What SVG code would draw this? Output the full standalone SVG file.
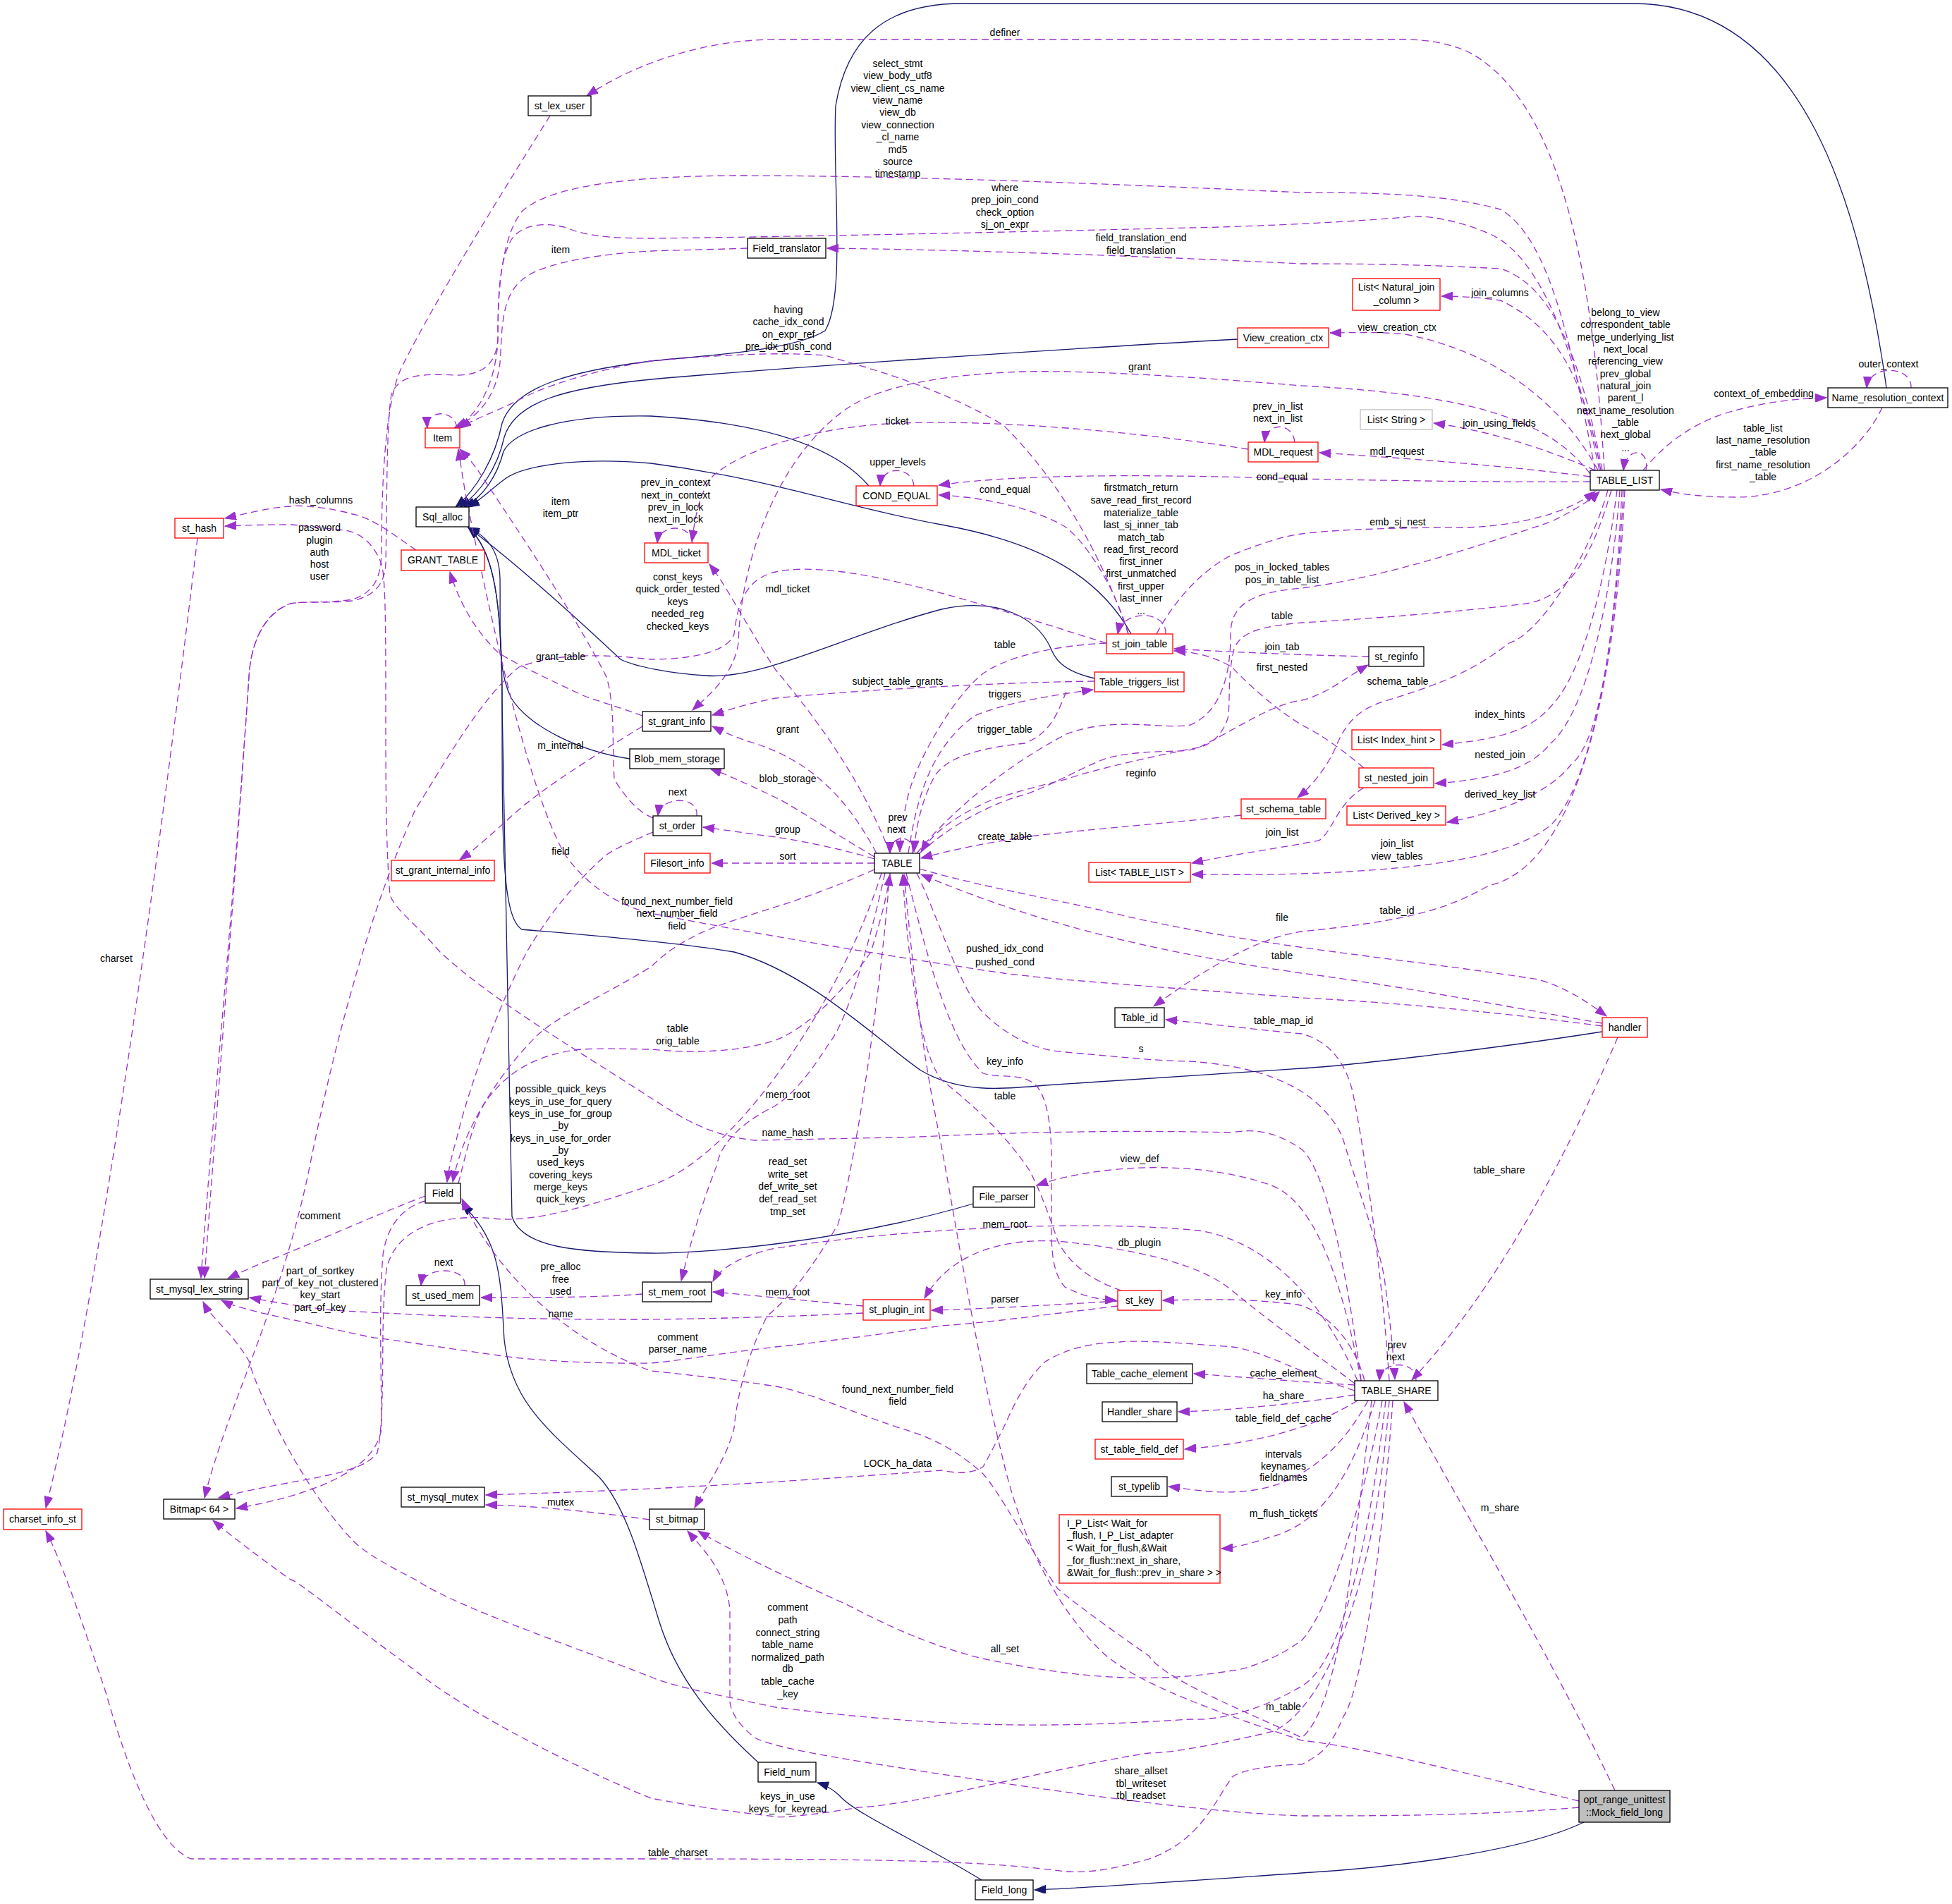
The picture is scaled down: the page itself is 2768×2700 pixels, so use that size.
<svg xmlns="http://www.w3.org/2000/svg" width="2768" height="2700" viewBox="0 0 2768 2700">
<defs>
<marker id="ap" markerUnits="userSpaceOnUse" markerWidth="17" markerHeight="12" refX="16" refY="6" orient="auto"><path d="M0,0 L16,6 L0,12 z" fill="#9a32cd" stroke="#9a32cd" stroke-width="1"/></marker>
<marker id="an" markerUnits="userSpaceOnUse" markerWidth="17" markerHeight="12" refX="16" refY="6" orient="auto"><path d="M0,0 L16,6 L0,12 z" fill="#191970" stroke="#191970" stroke-width="1"/></marker>
</defs>
<style>
.bk{fill:#ffffff;stroke:#000000;stroke-width:1.3}
.rd{fill:#ffffff;stroke:#ff0000;stroke-width:1.3}
.gy{fill:#ffffff;stroke:#bfbfbf;stroke-width:1.3}
.cur{fill:#bfbfbf;stroke:#000000;stroke-width:1.3}
text{font-family:"Liberation Sans",Arial,Helvetica,sans-serif;font-size:14px;fill:#000000}
.c{text-anchor:middle}
.d{fill:none;stroke:#9a32cd;stroke-width:1.3;stroke-dasharray:10,6;marker-end:url(#ap)}
.s{fill:none;stroke:#191970;stroke-width:1.3;marker-end:url(#an)}
</style>
<rect x="0" y="0" width="2768" height="2700" fill="#ffffff"/>
<g id="edges">
<!-- inheritance -->
<path class="s" d="M2246,2584 C2150,2630 1950,2650 1846,2656 C1700,2666 1550,2677 1467,2680"/>
<path class="s" d="M1392,2666 C1300,2610 1220,2575 1194,2550 C1185,2540 1172,2532 1159,2528"/>
<path class="s" d="M1075,2499 C1010,2440 960,2380 935,2300 C910,2220 890,2140 850,2095 C780,2030 725,1990 715,1900 C710,1820 712,1760 655,1708"/>
<path class="s" d="M2675,550 C2640,300 2560,5 2316,5 L1364,5 C1250,5 1200,60 1185,150 C1180,250 1200,420 1170,469 C1120,500 980,505 923,512 C820,525 730,545 712,600 C702,650 675,695 646,719"/>
<path class="s" d="M1755,481 C1500,495 1100,522 923,538 C800,550 730,570 715,620 C705,665 680,700 652,719"/>
<path class="s" d="M1232,689 C1190,640 1100,600 923,590 C800,588 730,610 714,640 C705,675 685,705 658,719"/>
<path class="s" d="M1604,899 C1560,820 1480,770 1335,744 C1200,720 1100,680 923,657 C820,648 740,660 715,680 C695,695 680,710 664,719"/>
<path class="s" d="M1552,962 C1500,950 1495,930 1488,915 C1470,880 1420,845 1335,864 C1200,900 1080,965 1000,958 C950,955 900,945 880,935 C800,860 720,790 664,748"/>
<path class="s" d="M893,1076 C820,1065 750,1030 725,990 C705,950 710,900 709,820 C708,780 690,760 664,748"/>
<path class="s" d="M2272,1463 C2100,1490 1900,1512 1846,1515 C1700,1525 1550,1535 1482,1539 C1420,1545 1360,1550 1306,1518 C1250,1480 1150,1380 1041,1350 C950,1335 820,1325 740,1318 C712,1300 712,1200 712,1000 C712,850 700,780 664,748"/>
<path class="s" d="M1380,1707 C1200,1760 1000,1778 923,1777 C820,1776 740,1770 726,1725 L712,1000 C712,850 700,780 664,748"/>
<!-- dashed usage edges -->
<path class="d" d="M2275,667 C2262,450 2230,150 2081,73 C2050,60 2020,56 1993,56 L1100,56 C1000,56 900,90 832,136"/>
<path class="d" d="M2262,667 C2230,500 2200,340 2128,297 C2050,275 1950,273 1846,273 C1600,262 1300,249 1041,249 C900,250 780,262 740,300 C708,340 706,430 706,480 C704,520 680,532 647,532 C600,530 565,530 555,560 C548,600 549,700 547,800 C545,830 530,845 500,852 C460,856 430,852 412,856 C370,872 355,920 353,960 C330,1300 305,1600 290,1812"/>
<path class="d" d="M2268,667 C2230,480 2180,360 2111,331 C2050,305 2000,305 1993,308 C1900,316 1750,322 1688,323 C1400,330 1100,336 923,338 C860,338 830,334 800,322 C770,315 740,318 725,340 C708,370 706,420 706,480 C704,540 680,585 648,607"/>
<path class="d" d="M1060,352 C1000,354 950,355 923,356 C850,360 780,372 750,390 C715,410 712,450 710,500 C708,560 680,590 644,607"/>
<path class="d" d="M2272,667 C2240,500 2200,405 2128,381 C2000,374 1900,374 1846,374 C1600,362 1350,354 1173,352"/>
<path class="d" d="M1600,899 C1560,780 1500,680 1423,603 C1350,560 1280,535 1170,504 C1100,498 1000,505 923,512 C840,525 770,548 730,570 C700,585 670,595 652,607"/>
<path class="d" d="M2270,667 C2250,560 2220,470 2128,426 C2100,422 2070,420 2044,420"/>
<path class="d" d="M2266,667 C2230,600 2150,505 1993,474 C1950,470 1920,472 1886,472"/>
<path class="d" d="M2255,672 C2200,600 2100,560 1846,547 C1700,535 1550,525 1453,527 C1350,530 1250,545 1200,580 C1100,650 1050,800 1047,912 C1040,960 1000,990 982,1007"/>
<path class="d" d="M1836,627 C1833,598 1796,598 1793,627"/>
<path class="d" d="M1770,637 C1600,610 1400,595 1276,600 C1150,605 1050,640 1011,675 C990,700 985,740 981,768"/>
<path class="d" d="M1296,689 C1293,660 1250,660 1248,689"/>
<path class="d" d="M2255,676 C2150,662 2000,650 1871,642"/>
<path class="d" d="M2262,667 C2200,640 2120,612 2033,600"/>
<path class="d" d="M2255,683 C2100,684 1950,681 1846,679 C1650,673 1450,671 1331,688"/>
<path class="d" d="M1600,899 C1580,830 1540,770 1512,748 C1470,722 1400,705 1331,702"/>
<path class="d" d="M1653,899 C1655,865 1592,863 1585,899"/>
<path class="d" d="M982,770 C980,742 935,742 932,770"/>
<path class="d" d="M2330,667 C2360,630 2400,600 2450,585 C2500,570 2550,565 2590,564"/>
<path class="d" d="M2710,550 C2712,518 2650,516 2647,550"/>
<path class="d" d="M2669,578 C2640,640 2560,705 2463,705 C2410,705 2380,700 2355,694"/>
<path class="d" d="M2334,667 C2340,635 2306,632 2302,667"/>
<path class="d" d="M590,780 C560,760 530,735 500,729 C460,718 420,716 412,718 C380,720 350,728 319,735"/>
<path class="d" d="M780,164 C720,260 620,420 570,520 C545,570 541,700 541,780 C541,820 530,840 500,850 C460,856 430,852 412,856 C370,870 355,920 353,960 C330,1300 300,1600 285,1812"/>
<path class="d" d="M280,763 C240,1100 150,1800 65,2138"/>
<path class="d" d="M911,1015 C870,1000 840,992 824,985 C760,955 720,935 706,925 C670,890 650,850 638,811"/>
<path class="d" d="M926,1160 C900,1150 880,1120 871,1105 C868,1050 872,1000 860,960 C820,880 740,760 683,675 C670,655 660,645 652,637"/>
<path class="d" d="M911,1030 C870,1055 780,1110 736,1148 C705,1175 680,1200 652,1219"/>
<path class="d" d="M926,1180 C890,1195 870,1205 859,1213 C810,1255 770,1310 747,1350 C700,1440 660,1560 647,1617 C640,1640 636,1660 634,1676"/>
<path class="d" d="M988,1157 C992,1128 936,1128 933,1157"/>
<path class="d" d="M1262,1210 C1220,1100 1150,1010 1100,950 C1060,890 1030,830 1006,800"/>
<path class="d" d="M1569,912 C1400,860 1200,790 1100,811 C1050,822 1045,870 1041,899 C1030,930 960,935 923,935 C860,928 790,925 736,946 C680,990 620,1100 589,1148 C520,1300 470,1500 440,1650 C400,1850 320,2000 290,2124"/>
<path class="d" d="M1294,1210 C1297,1182 1262,1182 1262,1210"/>
<path class="d" d="M1569,912 C1500,915 1430,930 1394,955 C1350,990 1300,1080 1288,1127 C1280,1160 1276,1190 1276,1208"/>
<path class="d" d="M1552,966 C1400,968 1200,980 1100,990 C1050,1000 1030,1008 1010,1014"/>
<path class="d" d="M1288,1210 C1300,1130 1320,1060 1382,1015 C1430,995 1500,985 1550,978"/>
<path class="d" d="M1512,981 C1500,1010 1490,1040 1453,1054 C1400,1060 1340,1070 1323,1105 C1305,1140 1298,1180 1296,1208"/>
<path class="d" d="M1243,1210 C1200,1130 1150,1080 1070,1054 C1040,1045 1020,1035 1010,1030"/>
<path class="d" d="M1240,1215 C1180,1180 1120,1140 1100,1131 C1060,1112 1030,1098 1007,1090"/>
<path class="d" d="M1240,1218 C1180,1200 1120,1190 1100,1187 C1060,1182 1030,1177 997,1173"/>
<path class="d" d="M1240,1224 L1009,1224"/>
<path class="d" d="M1300,1210 C1350,1150 1420,1090 1512,1041 C1580,1015 1650,1035 1688,1028 C1730,1010 1745,960 1745,900 C1745,860 1770,840 1846,834 C1950,820 2050,790 2199,740 C2230,725 2255,710 2268,697"/>
<path class="d" d="M2285,695 C2260,780 2230,845 2164,856 C2050,870 1900,880 1846,883 C1790,888 1760,895 1750,920 C1740,960 1745,1000 1741,1019 C1730,1050 1710,1060 1688,1062 C1600,1080 1540,1095 1512,1105 C1450,1120 1400,1135 1394,1140 C1350,1160 1320,1185 1306,1208"/>
<path class="d" d="M1640,899 C1660,860 1700,810 1747,787 C1790,770 1820,760 1846,757 C1900,750 2000,748 2081,748 C2150,745 2220,730 2262,697"/>
<path class="d" d="M1304,1210 C1360,1160 1420,1135 1453,1127 C1500,1110 1540,1085 1570,1075 C1630,1060 1680,1070 1700,1060 C1760,1030 1800,1000 1846,993 C1880,985 1910,960 1940,943"/>
<path class="d" d="M1941,931 C1850,929 1750,925 1665,920"/>
<path class="d" d="M1934,1089 C1900,1060 1870,1040 1846,1028 C1800,1000 1760,960 1747,946 C1720,930 1690,924 1665,923"/>
<path class="d" d="M2280,695 C2250,800 2180,900 2140,912 C2090,950 2050,968 1964,994 C1930,1005 1910,1020 1893,1062 C1880,1090 1860,1115 1840,1131"/>
<path class="d" d="M2293,695 C2280,800 2250,950 2199,1002 C2170,1035 2130,1048 2045,1056"/>
<path class="d" d="M2297,695 C2285,850 2250,1010 2199,1054 C2170,1090 2120,1105 2035,1111"/>
<path class="d" d="M2300,695 C2290,900 2270,1050 2228,1084 C2200,1120 2140,1150 2052,1166"/>
<path class="d" d="M2302,695 C2290,950 2250,1120 2199,1170 C2150,1210 2050,1232 1846,1239 C1780,1241 1730,1240 1690,1240"/>
<path class="d" d="M1934,1117 C1895,1140 1890,1180 1870,1192 C1800,1205 1730,1215 1690,1224"/>
<path class="d" d="M2304,695 C2290,1000 2230,1230 2111,1256 C2050,1290 2000,1305 1846,1321 C1780,1330 1700,1380 1636,1427"/>
<path class="d" d="M1760,1156 C1650,1168 1500,1180 1453,1187 C1400,1195 1350,1205 1306,1217"/>
<path class="d" d="M1304,1232 C1400,1260 1500,1275 1600,1300 C1800,1345 2000,1360 2181,1389 C2220,1400 2250,1420 2278,1441"/>
<path class="d" d="M2272,1451 C2150,1430 2000,1400 1846,1380 C1600,1345 1450,1300 1306,1240"/>
<path class="d" d="M2272,1455 C2100,1432 1950,1420 1846,1415 C1650,1400 1500,1390 1423,1380 C1300,1362 1100,1330 923,1295 C860,1280 820,1240 800,1210 C750,1120 700,900 660,700 C655,670 652,650 650,637"/>
<path class="d" d="M650,1678 C660,1640 670,1590 690,1560 C720,1520 760,1495 824,1488 C870,1486 900,1488 923,1488 C980,1494 1050,1492 1100,1475 C1150,1455 1200,1400 1235,1350 C1250,1300 1258,1270 1262,1240"/>
<path class="d" d="M1240,1233 C1180,1260 1120,1280 1100,1286 C1040,1305 1000,1318 982,1329 C950,1345 935,1360 923,1371 C860,1410 790,1440 760,1470 C700,1530 665,1600 655,1630 C648,1650 644,1665 642,1676"/>
<path class="d" d="M1250,1238 C1200,1400 1050,1640 923,1681 C850,1705 760,1735 700,1728 C620,1720 560,1745 548,1800 C538,1880 548,2000 535,2060 C510,2095 420,2095 310,2124"/>
<path class="d" d="M1285,1238 C1320,1380 1350,1480 1394,1522 C1420,1530 1450,1520 1470,1540 C1495,1570 1491,1650 1491,1694 C1491,1760 1488,1800 1510,1825 C1540,1840 1560,1843 1583,1844"/>
<path class="d" d="M1590,1830 C1560,1820 1520,1800 1500,1760 C1480,1700 1470,1680 1460,1660 C1420,1600 1370,1560 1335,1531 C1310,1500 1290,1400 1280,1240"/>
<path class="d" d="M1255,1238 C1230,1350 1200,1450 1176,1479 C1150,1520 1120,1560 1088,1574 C1040,1600 1020,1630 1017,1651 C990,1720 975,1780 966,1816"/>
<path class="d" d="M1262,1238 C1240,1500 1200,1700 1188,1737 C1150,1800 1120,1840 1088,1866 C1060,1920 1045,1980 1041,2025 C1030,2070 1000,2110 985,2138"/>
<path class="d" d="M2239,2554 C2100,2520 1950,2480 1846,2468 C1700,2420 1600,2380 1560,2340 C1480,2260 1440,2150 1420,2060 C1380,1900 1350,1700 1330,1600 C1300,1450 1290,1320 1282,1240"/>
<path class="d" d="M1300,1238 C1330,1300 1360,1400 1394,1436 C1440,1480 1480,1490 1512,1492 C1600,1500 1650,1505 1688,1505 C1750,1510 1800,1520 1846,1548 C1880,1570 1900,1600 1905,1617 C1930,1700 1960,1780 1964,1820 C1972,1880 1976,1920 1978,1956"/>
<path class="d" d="M1970,1958 C1960,1800 1930,1600 1917,1544 C1905,1500 1880,1475 1846,1466 C1780,1460 1700,1450 1653,1446"/>
<path class="d" d="M2008,1958 C2010,1928 1958,1928 1956,1958"/>
<path class="d" d="M2294,1471 C2230,1620 2130,1820 2002,1957"/>
<path class="d" d="M2290,2539 C2200,2350 2080,2150 1991,1988"/>
<path class="d" d="M2239,2563 C2100,2575 1950,2575 1846,2575 C1700,2570 1500,2540 1335,2516 C1200,2495 1100,2480 1070,2464 C1040,2440 1035,2420 1035,2412 C1035,2350 1035,2300 1035,2283 C1030,2230 1000,2200 975,2171"/>
<path class="d" d="M1921,1964 C1850,1960 1750,1952 1693,1948"/>
<path class="d" d="M1921,1978 C1840,1990 1750,2000 1671,2002"/>
<path class="d" d="M1925,1986 C1870,2020 1800,2045 1680,2055"/>
<path class="d" d="M1940,1986 C1900,2060 1840,2110 1760,2115 C1720,2118 1690,2112 1657,2108"/>
<path class="d" d="M1950,1986 C1920,2080 1880,2160 1800,2180 C1770,2190 1750,2195 1732,2196"/>
<path class="d" d="M1960,1986 C1930,2150 1880,2290 1846,2326 C1800,2360 1750,2370 1747,2369 C1650,2385 1550,2385 1394,2352 C1300,2330 1217,2283 1200,2275 C1100,2230 1020,2190 990,2171"/>
<path class="d" d="M1965,1986 C1940,2200 1900,2360 1846,2391 C1780,2430 1720,2440 1688,2438 C1500,2450 1350,2452 1100,2421 C1000,2400 950,2390 923,2378 C800,2330 650,2280 589,2240 C530,2210 510,2195 500,2184 C420,2100 360,1960 353,1930 C330,1890 300,1870 288,1846"/>
<path class="d" d="M1970,1986 C1950,2250 1880,2420 1806,2455 C1700,2480 1650,2486 1629,2486 C1500,2505 1300,2560 1217,2563 C1150,2575 1100,2578 1100,2576 C1000,2565 950,2555 923,2550 C800,2500 650,2420 589,2369 C480,2290 420,2240 412,2240 C370,2210 330,2180 302,2156"/>
<path class="d" d="M1975,1986 C1960,2200 1930,2400 1905,2434 C1890,2470 1880,2485 1846,2502 C1800,2503 1760,2510 1747,2520 C1720,2560 1700,2610 1630,2636 C1580,2650 1550,2656 1512,2654 C1400,2640 1300,2636 923,2636 L271,2636 C230,2620 190,2540 150,2400 C100,2250 80,2200 65,2171"/>
<path class="d" d="M1921,1972 C1850,1950 1790,1915 1747,1910 C1680,1905 1620,1900 1588,1903 C1530,1905 1500,1920 1482,1931 C1450,1960 1430,2010 1423,2025 C1410,2050 1400,2070 1394,2080 C1370,2095 1340,2085 1335,2085 C1200,2095 1050,2105 923,2111 C820,2116 750,2118 689,2120"/>
<path class="d" d="M921,2155 C850,2145 760,2135 689,2134"/>
<path class="d" d="M1945,1986 C1920,2200 1900,2420 1846,2464 C1750,2420 1650,2380 1629,2348 C1560,2300 1520,2270 1500,2253 C1450,2180 1420,2120 1394,2090 C1350,2050 1310,2035 1276,2025 C1200,2000 1150,1975 1100,1966 C1050,1958 980,1950 923,1944 C800,1900 700,1800 655,1700"/>
<path class="d" d="M1930,1958 C1910,1800 1880,1660 1846,1630 C1810,1605 1780,1600 1747,1606 C1500,1600 1300,1613 1276,1613 C1150,1615 1100,1617 1070,1617 C1000,1610 960,1580 923,1557 C820,1490 700,1420 624,1350 C590,1310 560,1290 553,1269 C547,1200 547,1105 547,1000 C547,900 547,820 541,800 C530,770 510,755 489,752 C450,748 420,744 412,744 C370,744 345,745 319,746"/>
<path class="d" d="M1921,1962 C1880,1930 1820,1890 1747,1830 C1700,1790 1600,1770 1500,1760 C1400,1755 1340,1790 1311,1841"/>
<path class="d" d="M1925,1958 C1880,1850 1800,1760 1700,1745 C1550,1730 1300,1740 1100,1770 C1050,1780 1020,1800 1011,1817"/>
<path class="d" d="M1930,1958 C1900,1800 1860,1700 1800,1680 C1700,1645 1560,1650 1470,1681"/>
<path class="d" d="M1935,1958 C1920,1900 1880,1860 1840,1850 C1760,1840 1700,1843 1649,1844"/>
<path class="d" d="M1224,1852 C1150,1845 1080,1838 1011,1832"/>
<path class="d" d="M1224,1862 C1100,1868 1000,1870 923,1871 C800,1871 700,1871 471,1858 C420,1852 380,1845 354,1840"/>
<path class="d" d="M911,1835 C850,1840 760,1840 682,1840"/>
<path class="d" d="M659,1823 C662,1795 600,1795 597,1823"/>
<path class="d" d="M1585,1845 C1500,1850 1400,1856 1321,1858"/>
<path class="d" d="M1585,1852 C1500,1862 1400,1876 1335,1880 C1250,1892 1150,1905 1100,1910 C1000,1922 960,1930 923,1933 C850,1934 760,1930 706,1922 C620,1910 560,1900 530,1897 C470,1885 440,1876 412,1871 C360,1860 330,1852 314,1844"/>
<path class="d" d="M603,1696 C540,1720 450,1760 400,1780 C360,1795 340,1805 323,1813"/>
<path class="d" d="M603,1703 C570,1712 548,1740 543,1780 C537,1850 541,1950 541,2025 C535,2075 470,2115 335,2139"/>
<path class="d" d="M648,607 C645,580 604,580 606,607"/>
<!-- labels -->
<text class="c" x="1425" y="51">definer</text>
<text class="c" x="1273" y="95">select_stmt</text>
<text class="c" x="1273" y="112">view_body_utf8</text>
<text class="c" x="1273" y="130">view_client_cs_name</text>
<text class="c" x="1273" y="147">view_name</text>
<text class="c" x="1273" y="164">view_db</text>
<text class="c" x="1273" y="182">view_connection</text>
<text class="c" x="1273" y="199">_cl_name</text>
<text class="c" x="1273" y="217">md5</text>
<text class="c" x="1273" y="234">source</text>
<text class="c" x="1273" y="251">timestamp</text>
<text class="c" x="1425" y="271">where</text>
<text class="c" x="1425" y="288">prep_join_cond</text>
<text class="c" x="1425" y="306">check_option</text>
<text class="c" x="1425" y="323">sj_on_expr</text>
<text class="c" x="1618" y="342">field_translation_end</text>
<text class="c" x="1618" y="360">field_translation</text>
<text class="c" x="795" y="359">item</text>
<text class="c" x="1118" y="444">having</text>
<text class="c" x="1118" y="461">cache_idx_cond</text>
<text class="c" x="1118" y="479">on_expr_ref</text>
<text class="c" x="1118" y="496">pre_idx_push_cond</text>
<text class="c" x="2127" y="420">join_columns</text>
<text class="c" x="1981" y="469">view_creation_ctx</text>
<text class="c" x="1616" y="525">grant</text>
<text class="c" x="1812" y="581">prev_in_list</text>
<text class="c" x="1812" y="598">next_in_list</text>
<text class="c" x="1272" y="602">ticket</text>
<text class="c" x="1273" y="660">upper_levels</text>
<text class="c" x="2126" y="605">join_using_fields</text>
<text class="c" x="1981" y="645">mdl_request</text>
<text class="c" x="1818" y="681">cond_equal</text>
<text class="c" x="2305" y="448">belong_to_view</text>
<text class="c" x="2305" y="465">correspondent_table</text>
<text class="c" x="2305" y="483">merge_underlying_list</text>
<text class="c" x="2305" y="500">next_local</text>
<text class="c" x="2305" y="517">referencing_view</text>
<text class="c" x="2305" y="535">prev_global</text>
<text class="c" x="2305" y="552">natural_join</text>
<text class="c" x="2305" y="569">parent_l</text>
<text class="c" x="2305" y="587">next_name_resolution</text>
<text class="c" x="2305" y="604">_table</text>
<text class="c" x="2305" y="621">next_global</text>
<text class="c" x="2305" y="640">...</text>
<text class="c" x="2678" y="521">outer_context</text>
<text class="c" x="2501" y="563">context_of_embedding</text>
<text class="c" x="2500" y="612">table_list</text>
<text class="c" x="2500" y="629">last_name_resolution</text>
<text class="c" x="2500" y="646">_table</text>
<text class="c" x="2500" y="664">first_name_resolution</text>
<text class="c" x="2500" y="681">_table</text>
<text class="c" x="455" y="714">hash_columns</text>
<text class="c" x="453" y="753">password</text>
<text class="c" x="453" y="771">plugin</text>
<text class="c" x="453" y="788">auth</text>
<text class="c" x="453" y="805">host</text>
<text class="c" x="453" y="822">user</text>
<text class="c" x="795" y="716">item</text>
<text class="c" x="795" y="733">item_ptr</text>
<text class="c" x="958" y="689">prev_in_context</text>
<text class="c" x="958" y="707">next_in_context</text>
<text class="c" x="958" y="724">prev_in_lock</text>
<text class="c" x="958" y="741">next_in_lock</text>
<text class="c" x="1425" y="699">cond_equal</text>
<text class="c" x="1618" y="696">firstmatch_return</text>
<text class="c" x="1618" y="714">save_read_first_record</text>
<text class="c" x="1618" y="732">materialize_table</text>
<text class="c" x="1618" y="749">last_sj_inner_tab</text>
<text class="c" x="1618" y="767">match_tab</text>
<text class="c" x="1618" y="784">read_first_record</text>
<text class="c" x="1618" y="801">first_inner</text>
<text class="c" x="1618" y="818">first_unmatched</text>
<text class="c" x="1618" y="836">first_upper</text>
<text class="c" x="1618" y="853">last_inner</text>
<text class="c" x="1618" y="871">...</text>
<text class="c" x="961" y="823">const_keys</text>
<text class="c" x="961" y="840">quick_order_tested</text>
<text class="c" x="961" y="858">keys</text>
<text class="c" x="961" y="875">needed_reg</text>
<text class="c" x="961" y="893">checked_keys</text>
<text class="c" x="1117" y="840">mdl_ticket</text>
<text class="c" x="1982" y="745">emb_sj_nest</text>
<text class="c" x="1818" y="809">pos_in_locked_tables</text>
<text class="c" x="1818" y="827">pos_in_table_list</text>
<text class="c" x="1818" y="878">table</text>
<text class="c" x="1425" y="919">table</text>
<text class="c" x="1818" y="922">join_tab</text>
<text class="c" x="795" y="936">grant_table</text>
<text class="c" x="1818" y="951">first_nested</text>
<text class="c" x="1273" y="971">subject_table_grants</text>
<text class="c" x="1982" y="971">schema_table</text>
<text class="c" x="1425" y="989">triggers</text>
<text class="c" x="2127" y="1018">index_hints</text>
<text class="c" x="1117" y="1039">grant</text>
<text class="c" x="1425" y="1039">trigger_table</text>
<text class="c" x="795" y="1062">m_internal</text>
<text class="c" x="2127" y="1075">nested_join</text>
<text class="c" x="1618" y="1101">reginfo</text>
<text class="c" x="1117" y="1109">blob_storage</text>
<text class="c" x="961" y="1128">next</text>
<text class="c" x="2127" y="1131">derived_key_list</text>
<text class="c" x="1273" y="1164">prev</text>
<text class="c" x="1271" y="1181">next</text>
<text class="c" x="1117" y="1181">group</text>
<text class="c" x="1818" y="1185">join_list</text>
<text class="c" x="1425" y="1191">create_table</text>
<text class="c" x="1981" y="1201">join_list</text>
<text class="c" x="1981" y="1219">view_tables</text>
<text class="c" x="795" y="1212">field</text>
<text class="c" x="1117" y="1219">sort</text>
<text class="c" x="960" y="1283">found_next_number_field</text>
<text class="c" x="960" y="1300">next_number_field</text>
<text class="c" x="960" y="1318">field</text>
<text class="c" x="1981" y="1296">table_id</text>
<text class="c" x="1818" y="1306">file</text>
<text class="c" x="1425" y="1350">pushed_idx_cond</text>
<text class="c" x="1425" y="1369">pushed_cond</text>
<text class="c" x="1818" y="1360">table</text>
<text class="c" x="165" y="1364">charset</text>
<text class="c" x="1820" y="1452">table_map_id</text>
<text class="c" x="961" y="1463">table</text>
<text class="c" x="961" y="1481">orig_table</text>
<text class="c" x="1618" y="1492">s</text>
<text class="c" x="1425" y="1510">key_info</text>
<text class="c" x="795" y="1549">possible_quick_keys</text>
<text class="c" x="795" y="1567">keys_in_use_for_query</text>
<text class="c" x="795" y="1584">keys_in_use_for_group</text>
<text class="c" x="795" y="1601">_by</text>
<text class="c" x="795" y="1619">keys_in_use_for_order</text>
<text class="c" x="795" y="1636">_by</text>
<text class="c" x="795" y="1653">used_keys</text>
<text class="c" x="795" y="1671">covering_keys</text>
<text class="c" x="795" y="1688">merge_keys</text>
<text class="c" x="795" y="1705">quick_keys</text>
<text class="c" x="1117" y="1557">mem_root</text>
<text class="c" x="1425" y="1559">table</text>
<text class="c" x="1117" y="1611">name_hash</text>
<text class="c" x="1616" y="1648">view_def</text>
<text class="c" x="1117" y="1652">read_set</text>
<text class="c" x="1117" y="1670">write_set</text>
<text class="c" x="1117" y="1687">def_write_set</text>
<text class="c" x="1117" y="1705">def_read_set</text>
<text class="c" x="1117" y="1723">tmp_set</text>
<text class="c" x="2126" y="1664">table_share</text>
<text class="c" x="454" y="1729">comment</text>
<text class="c" x="1425" y="1741">mem_root</text>
<text class="c" x="1616" y="1767">db_plugin</text>
<text class="c" x="629" y="1795">next</text>
<text class="c" x="795" y="1801">pre_alloc</text>
<text class="c" x="795" y="1819">free</text>
<text class="c" x="795" y="1836">used</text>
<text class="c" x="454" y="1807">part_of_sortkey</text>
<text class="c" x="454" y="1824">part_of_key_not_clustered</text>
<text class="c" x="454" y="1841">key_start</text>
<text class="c" x="454" y="1859">part_of_key</text>
<text class="c" x="1117" y="1837">mem_root</text>
<text class="c" x="1820" y="1840">key_info</text>
<text class="c" x="1425" y="1847">parser</text>
<text class="c" x="795" y="1868">name</text>
<text class="c" x="961" y="1901">comment</text>
<text class="c" x="961" y="1918">parser_name</text>
<text class="c" x="1981" y="1912">prev</text>
<text class="c" x="1979" y="1929">next</text>
<text class="c" x="1820" y="1952">cache_element</text>
<text class="c" x="1273" y="1975">found_next_number_field</text>
<text class="c" x="1273" y="1992">field</text>
<text class="c" x="1820" y="1984">ha_share</text>
<text class="c" x="1820" y="2016">table_field_def_cache</text>
<text class="c" x="1820" y="2067">intervals</text>
<text class="c" x="1820" y="2084">keynames</text>
<text class="c" x="1820" y="2100">fieldnames</text>
<text class="c" x="1273" y="2080">LOCK_ha_data</text>
<text class="c" x="795" y="2135">mutex</text>
<text class="c" x="2127" y="2143">m_share</text>
<text class="c" x="1820" y="2151">m_flush_tickets</text>
<text class="c" x="1117" y="2284">comment</text>
<text class="c" x="1117" y="2302">path</text>
<text class="c" x="1117" y="2320">connect_string</text>
<text class="c" x="1117" y="2337">table_name</text>
<text class="c" x="1117" y="2355">normalized_path</text>
<text class="c" x="1117" y="2371">db</text>
<text class="c" x="1117" y="2389">table_cache</text>
<text class="c" x="1117" y="2407">_key</text>
<text class="c" x="1425" y="2343">all_set</text>
<text class="c" x="1820" y="2425">m_table</text>
<text class="c" x="1618" y="2516">share_allset</text>
<text class="c" x="1618" y="2534">tbl_writeset</text>
<text class="c" x="1618" y="2551">tbl_readset</text>
<text class="c" x="1117" y="2552">keys_in_use</text>
<text class="c" x="1117" y="2570">keys_for_keyread</text>
<text class="c" x="961" y="2632">table_charset</text>
</g>
<g id="node-mock"><rect class="cur" x="2239" y="2539" width="129" height="45"/><text class="c" x="2303.5" y="2557">opt_range_unittest</text><text class="c" x="2303.5" y="2575">::Mock_field_long</text></g>
<g id="node-field_long"><rect class="bk" x="1383" y="2666" width="82" height="28"/><text class="c" x="1424" y="2685">Field_long</text></g>
<g id="node-field_num"><rect class="bk" x="1075" y="2499" width="82" height="28"/><text class="c" x="1116" y="2518">Field_num</text></g>
<g id="node-field"><rect class="bk" x="603" y="1678" width="50" height="28"/><text class="c" x="628" y="1697">Field</text></g>
<g id="node-sql_alloc"><rect class="bk" x="590" y="719" width="75" height="28"/><text class="c" x="627.5" y="738">Sql_alloc</text></g>
<g id="node-table_share"><rect class="bk" x="1921" y="1958" width="118" height="28"/><text class="c" x="1980" y="1977">TABLE_SHARE</text></g>
<g id="node-table"><rect class="bk" x="1240" y="1210" width="64" height="28"/><text class="c" x="1272" y="1229">TABLE</text></g>
<g id="node-table_list"><rect class="bk" x="2255" y="667" width="98" height="28"/><text class="c" x="2304" y="686">TABLE_LIST</text></g>
<g id="node-name_resolution_context"><rect class="bk" x="2592" y="550" width="170" height="28"/><text class="c" x="2677" y="569">Name_resolution_context</text></g>
<g id="node-st_lex_user"><rect class="bk" x="749" y="136" width="89" height="28"/><text class="c" x="793.5" y="155">st_lex_user</text></g>
<g id="node-item"><rect class="rd" x="603" y="607" width="49" height="28"/><text class="c" x="627.5" y="626">Item</text></g>
<g id="node-field_translator"><rect class="bk" x="1060" y="338" width="111" height="28"/><text class="c" x="1115.5" y="357">Field_translator</text></g>
<g id="node-view_creation_ctx"><rect class="rd" x="1755" y="465" width="129" height="28"/><text class="c" x="1819.5" y="484">View_creation_ctx</text></g>
<g id="node-list_natural_join"><rect class="rd" x="1918" y="395" width="124" height="45"/><text class="c" x="1980" y="412">List&lt; Natural_join</text><text class="c" x="1980" y="431">_column &gt;</text></g>
<g id="node-list_string"><rect class="gy" x="1929" y="581" width="102" height="28"/><text class="c" x="1980" y="600">List&lt; String &gt;</text></g>
<g id="node-mdl_request"><rect class="rd" x="1770" y="627" width="99" height="28"/><text class="c" x="1819.5" y="646">MDL_request</text></g>
<g id="node-cond_equal"><rect class="rd" x="1214" y="689" width="115" height="28"/><text class="c" x="1271.5" y="708">COND_EQUAL</text></g>
<g id="node-mdl_ticket"><rect class="rd" x="914" y="770" width="90" height="28"/><text class="c" x="959" y="789">MDL_ticket</text></g>
<g id="node-st_hash"><rect class="rd" x="248" y="735" width="69" height="28"/><text class="c" x="282.5" y="754">st_hash</text></g>
<g id="node-grant_table"><rect class="rd" x="569" y="780" width="118" height="29"/><text class="c" x="628" y="799">GRANT_TABLE</text></g>
<g id="node-st_join_table"><rect class="rd" x="1569" y="899" width="94" height="28"/><text class="c" x="1616" y="918">st_join_table</text></g>
<g id="node-st_reginfo"><rect class="bk" x="1941" y="917" width="78" height="28"/><text class="c" x="1980" y="936">st_reginfo</text></g>
<g id="node-table_triggers_list"><rect class="rd" x="1552" y="953" width="127" height="28"/><text class="c" x="1615.5" y="972">Table_triggers_list</text></g>
<g id="node-st_grant_info"><rect class="bk" x="911" y="1009" width="97" height="28"/><text class="c" x="959.5" y="1028">st_grant_info</text></g>
<g id="node-list_index_hint"><rect class="rd" x="1917" y="1035" width="126" height="28"/><text class="c" x="1980" y="1054">List&lt; Index_hint &gt;</text></g>
<g id="node-blob_mem_storage"><rect class="bk" x="893" y="1062" width="134" height="28"/><text class="c" x="960" y="1081">Blob_mem_storage</text></g>
<g id="node-st_nested_join"><rect class="rd" x="1927" y="1089" width="106" height="28"/><text class="c" x="1980" y="1108">st_nested_join</text></g>
<g id="node-st_schema_table"><rect class="rd" x="1760" y="1133" width="120" height="28"/><text class="c" x="1820" y="1152">st_schema_table</text></g>
<g id="node-list_derived_key"><rect class="rd" x="1910" y="1143" width="140" height="27"/><text class="c" x="1980" y="1161">List&lt; Derived_key &gt;</text></g>
<g id="node-st_order"><rect class="bk" x="926" y="1157" width="69" height="28"/><text class="c" x="960.5" y="1176">st_order</text></g>
<g id="node-filesort_info"><rect class="rd" x="914" y="1210" width="93" height="28"/><text class="c" x="960.5" y="1229">Filesort_info</text></g>
<g id="node-list_table_list"><rect class="rd" x="1544" y="1223" width="144" height="28"/><text class="c" x="1616" y="1242">List&lt; TABLE_LIST &gt;</text></g>
<g id="node-st_grant_internal_info"><rect class="rd" x="555" y="1220" width="146" height="29"/><text class="c" x="628" y="1239">st_grant_internal_info</text></g>
<g id="node-handler"><rect class="rd" x="2272" y="1443" width="64" height="28"/><text class="c" x="2304" y="1462">handler</text></g>
<g id="node-table_id"><rect class="bk" x="1581" y="1429" width="70" height="28"/><text class="c" x="1616" y="1448">Table_id</text></g>
<g id="node-file_parser"><rect class="bk" x="1380" y="1683" width="87" height="29"/><text class="c" x="1423.5" y="1702">File_parser</text></g>
<g id="node-st_mysql_lex_string"><rect class="bk" x="213" y="1814" width="139" height="28"/><text class="c" x="282.5" y="1833">st_mysql_lex_string</text></g>
<g id="node-st_used_mem"><rect class="bk" x="576" y="1823" width="104" height="28"/><text class="c" x="628" y="1842">st_used_mem</text></g>
<g id="node-st_mem_root"><rect class="bk" x="911" y="1818" width="98" height="28"/><text class="c" x="960" y="1837">st_mem_root</text></g>
<g id="node-st_plugin_int"><rect class="rd" x="1224" y="1843" width="95" height="29"/><text class="c" x="1271.5" y="1862">st_plugin_int</text></g>
<g id="node-st_key"><rect class="rd" x="1585" y="1830" width="62" height="28"/><text class="c" x="1616" y="1849">st_key</text></g>
<g id="node-table_cache_element"><rect class="bk" x="1541" y="1934" width="150" height="28"/><text class="c" x="1616" y="1953">Table_cache_element</text></g>
<g id="node-handler_share"><rect class="bk" x="1563" y="1988" width="106" height="28"/><text class="c" x="1616" y="2007">Handler_share</text></g>
<g id="node-st_table_field_def"><rect class="rd" x="1553" y="2041" width="125" height="28"/><text class="c" x="1615.5" y="2060">st_table_field_def</text></g>
<g id="node-st_typelib"><rect class="bk" x="1576" y="2094" width="79" height="28"/><text class="c" x="1615.5" y="2113">st_typelib</text></g>
<g id="node-i_p_list"><rect class="rd" x="1502" y="2148" width="228" height="97"/><text x="1513" y="2165">I_P_List&lt; Wait_for</text><text x="1513" y="2182">_flush, I_P_List_adapter</text><text x="1513" y="2200">&lt; Wait_for_flush,&amp;Wait</text><text x="1513" y="2218">_for_flush::next_in_share,</text><text x="1513" y="2235">&amp;Wait_for_flush::prev_in_share &gt; &gt;</text></g>
<g id="node-st_mysql_mutex"><rect class="bk" x="569" y="2109" width="118" height="28"/><text class="c" x="628" y="2128">st_mysql_mutex</text></g>
<g id="node-st_bitmap"><rect class="bk" x="921" y="2140" width="78" height="29"/><text class="c" x="960" y="2159">st_bitmap</text></g>
<g id="node-bitmap64"><rect class="bk" x="232" y="2126" width="101" height="28"/><text class="c" x="282.5" y="2145">Bitmap&lt; 64 &gt;</text></g>
<g id="node-charset_info_st"><rect class="rd" x="5" y="2140" width="111" height="29"/><text class="c" x="60.5" y="2159">charset_info_st</text></g>
</svg>
